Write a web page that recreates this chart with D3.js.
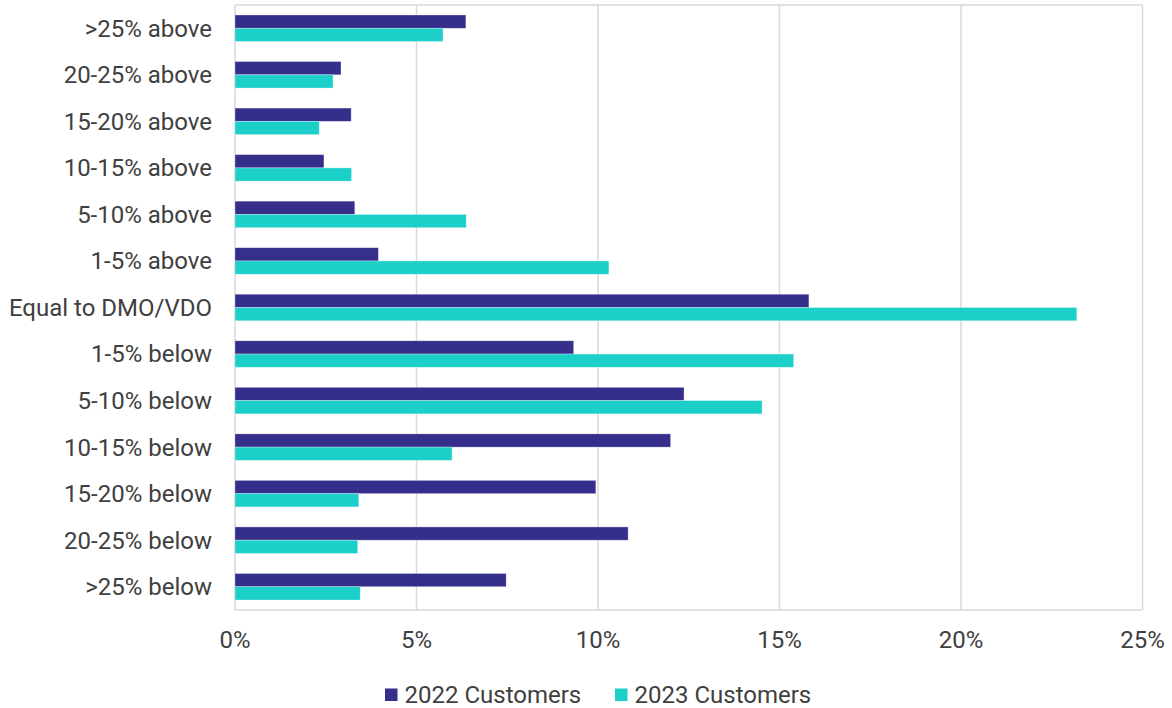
<!DOCTYPE html>
<html>
<head>
<meta charset="utf-8">
<script src="https://cdn.jsdelivr.net/npm/d3@7"></script>
<style>
  body { margin: 0; background: #fff; }
  text { font-family: Roboto, "Noto Sans", sans-serif; fill: #404040; }
</style>
</head>
<body>
<div id="chart"></div>
<script>
const categories = [">25% above", "20-25% above", "15-20% above", "10-15% above", "5-10% above",
  "1-5% above", "Equal to DMO/VDO", "1-5% below", "5-10% below", "10-15% below",
  "15-20% below", "20-25% below", ">25% below"];
const series = ["2022 Customers", "2023 Customers"];
const values2022 = [6.36, 2.92, 3.20, 2.45, 3.30, 3.95, 15.81, 9.33, 12.37, 12.0, 9.94, 10.83, 7.47];
const values2023 = [5.73, 2.70, 2.32, 3.21, 6.37, 10.30, 23.19, 15.39, 14.52, 5.98, 3.41, 3.38, 3.45];
const xTicks = [0, 5, 10, 15, 20, 25];
const colors = ["#352F8B", "#1DCFC9"];

const width = 1172, height = 708;
const margin = { top: 5, right: 30, bottom: 98, left: 235 };

const svg = d3.select("#chart")
  .append("svg")
  .attr("width", width)
  .attr("height", height);

const x = d3.scaleLinear()
  .domain([0, 25])
  .range([margin.left, 1142.5]);

const y = d3.scaleBand()
  .domain(categories)
  .range([margin.top, height - margin.bottom])
  .paddingInner(0.43)
  .paddingOuter(0.215);

const ySub = d3.scaleBand()
  .domain(series)
  .range([0, y.bandwidth()]);

// gridlines
svg.append("g")
  .selectAll("line")
  .data(xTicks)
  .join("line")
  .attr("x1", d => x(d))
  .attr("x2", d => x(d))
  .attr("y1", margin.top)
  .attr("y2", height - margin.bottom)
  .attr("stroke", "#d9d9d9")
  .attr("stroke-width", 1.5);

// top and bottom border
svg.append("g")
  .selectAll("line")
  .data([margin.top, height - margin.bottom])
  .join("line")
  .attr("x1", x(0))
  .attr("x2", x(25))
  .attr("y1", d => d)
  .attr("y2", d => d)
  .attr("stroke", "#d9d9d9")
  .attr("stroke-width", 1.5);

const rows = categories.map((c, i) => ({ cat: c, vals: [values2022[i], values2023[i]] }));

svg.append("g")
  .selectAll("g")
  .data(rows)
  .join("g")
  .attr("transform", d => `translate(0,${y(d.cat)})`)
  .selectAll("rect")
  .data(d => d.vals.map((v, j) => ({ s: series[j], v, j })))
  .join("rect")
  .attr("x", x(0))
  .attr("y", d => ySub(d.s))
  .attr("width", d => x(d.v) - x(0))
  .attr("height", ySub.bandwidth())
  .attr("fill", d => colors[d.j])
  .attr("stroke", "#ffffff")
  .attr("stroke-opacity", 0.4)
  .attr("stroke-width", 0.75);

// category labels
svg.append("g")
  .selectAll("text")
  .data(categories)
  .join("text")
  .attr("x", 212)
  .attr("y", d => y(d) + y.bandwidth() / 2)
  .attr("dy", "0.35em")
  .attr("text-anchor", "end")
  .attr("font-size", 24)
  .text(d => d);

// x tick labels
svg.append("g")
  .selectAll("text")
  .data(xTicks)
  .join("text")
  .attr("x", d => x(d))
  .attr("y", 640)
  .attr("dy", "0.35em")
  .attr("text-anchor", "middle")
  .attr("font-size", 24)
  .text(d => d + "%");

// legend
const legendX = [385, 615];
const legend = svg.append("g")
  .selectAll("g")
  .data(series)
  .join("g")
  .attr("transform", (d, i) => `translate(${legendX[i]},694.5)`);

legend.append("rect")
  .attr("x", 0)
  .attr("y", -6)
  .attr("width", 12.5)
  .attr("height", 12.5)
  .attr("fill", (d, i) => colors[i]);

legend.append("text")
  .attr("x", 19.5)
  .attr("dy", "0.35em")
  .attr("font-size", 24)
  .text(d => d);
</script>
</body>
</html>
